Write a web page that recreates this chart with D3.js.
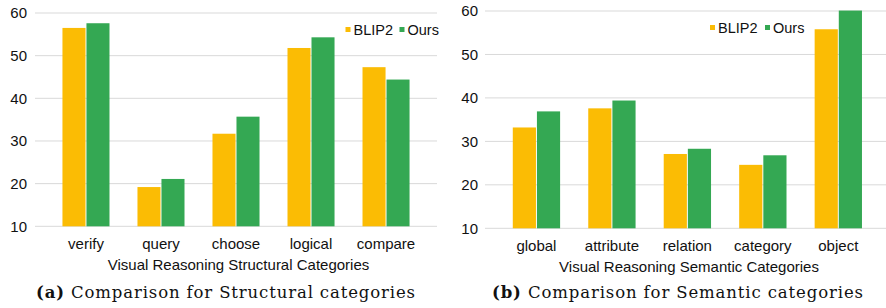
<!DOCTYPE html>
<html>
<head>
<meta charset="utf-8">
<script src="https://cdn.jsdelivr.net/npm/d3@7"></script>
<style>
  body { margin: 0; background: #fff; }
  svg text { font-family: "Liberation Sans", Arial, sans-serif; fill: #111; }
</style>
</head>
<body>
<svg id="chart" width="886" height="308"></svg>
<script>
const series = ["BLIP2", "Ours"];
const colors = ["#FBBC04", "#34A853"];
const yTicks = [10, 20, 30, 40, 50, 60];

const structCats = ["verify", "query", "choose", "logical", "compare"];
const structBlip = [56.5, 19.2, 31.7, 51.8, 47.3];
const structOurs = [57.6, 21.1, 35.7, 54.3, 44.4];

const semCats = ["global", "attribute", "relation", "category", "object"];
const semBlip = [33.2, 37.6, 27.1, 24.6, 55.8];
const semOurs = [36.9, 39.4, 28.3, 26.8, 60.1];

const svg = d3.select("#chart");

function panel(opt) {
  const g = svg.append("g");
  const y = d3.scaleLinear().domain([10, 60]).range([opt.y10, opt.y60]);
  const x = d3.scaleBand().domain(opt.cats).range(opt.xRange).paddingInner(0.373).paddingOuter(0.186);
  const x1 = d3.scaleBand().domain(series).range([0, x.bandwidth()]).paddingInner(0.04);

  // gridlines
  g.append("g")
      .selectAll("line")
      .data(yTicks)
      .join("line")
      .attr("x1", opt.gridX[0]).attr("x2", opt.gridX[1])
      .attr("y1", d => y(d)).attr("y2", d => y(d))
      .attr("stroke", "#d9d9d9").attr("stroke-width", 1);

  // y tick labels
  g.append("g")
      .selectAll("text")
      .data(yTicks)
      .join("text")
      .attr("x", opt.tickX)
      .attr("y", d => y(d))
      .attr("dy", "0.35em")
      .attr("text-anchor", "end")
      .style("font-size", "15px")
      .text(d => d);

  const rows = opt.cats.map((c, i) => ({cat: c, vals: [opt.blip[i], opt.ours[i]]}));
  g.append("g")
      .selectAll("g")
      .data(rows)
      .join("g")
      .attr("transform", d => "translate(" + x(d.cat) + ",0)")
      .selectAll("rect")
      .data(d => d.vals.map((v, k) => ({s: series[k], v: v, k: k})))
      .join("rect")
      .attr("x", d => x1(d.s))
      .attr("y", d => y(d.v))
      .attr("width", x1.bandwidth())
      .attr("height", d => y(10) - y(d.v))
      .attr("fill", d => colors[d.k]);

  // category labels
  g.append("g")
      .selectAll("text")
      .data(opt.cats)
      .join("text")
      .attr("x", d => x(d) + x.bandwidth() / 2)
      .attr("y", opt.labelY)
      .attr("text-anchor", "middle")
      .style("font-size", "15px")
      .text(d => d);

  g.append("text")
      .attr("x", opt.titleX)
      .attr("y", opt.titleY)
      .attr("text-anchor", "middle")
      .style("font-size", "15px")
      .text(opt.title);

  // legend
  const lg = g.append("g").attr("transform", "translate(" + opt.legend[0] + "," + opt.legend[1] + ")");
  const offs = [0, opt.legendGap];
  series.forEach((s, k) => {
    lg.append("rect").attr("x", offs[k]).attr("y", -8).attr("width", 5).attr("height", 5).attr("fill", colors[k]);
    lg.append("text").attr("x", offs[k] + 8).attr("y", 0).style("font-size", "14.5px").text(s);
  });

  // caption
  const cap = g.append("text")
      .attr("x", opt.capX)
      .attr("y", opt.capY)
      .attr("text-anchor", "middle")
      .attr("textLength", opt.capW)
      .attr("lengthAdjust", "spacing")
      .style("font-family", "'DejaVu Serif', 'Liberation Serif', serif")
      .style("font-size", "16.5px");
  cap.append("tspan").style("font-weight", "bold").text(opt.capTag);
  cap.append("tspan").text(" " + opt.caption);
}

panel({
  cats: structCats, blip: structBlip, ours: structOurs,
  y10: 226.3, y60: 13, xRange: [48.5, 423.5], gridX: [35, 437], tickX: 27,
  labelY: 248.5, titleX: 238.5, titleY: 270,
  title: "Visual Reasoning Structural Categories",
  legend: [345.5, 35], legendGap: 54,
  capX: 225.5, capY: 298, capW: 379, capTag: "(a)", caption: "Comparison for Structural categories"
});

panel({
  cats: semCats, blip: semBlip, ours: semOurs,
  y10: 228.3, y60: 11, xRange: [498.75, 876], gridX: [485, 886], tickX: 478,
  labelY: 251, titleX: 689, titleY: 272,
  title: "Visual Reasoning Semantic Categories",
  legend: [710, 33], legendGap: 55,
  capX: 677.5, capY: 298, capW: 371, capTag: "(b)", caption: "Comparison for Semantic categories"
});
</script>
</body>
</html>
